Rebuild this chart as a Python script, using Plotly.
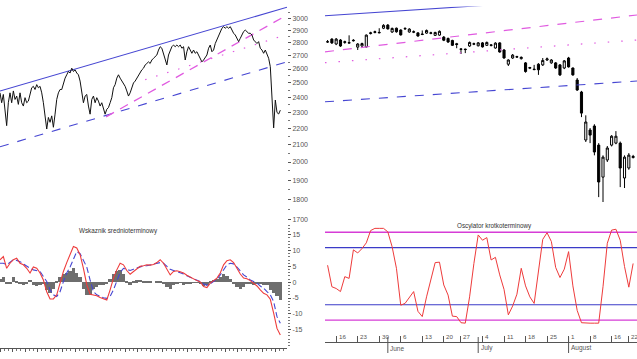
import plotly.graph_objects as go
import pandas as pd
import math

W, H = 637, 359

# ---------------- left: long-term index (log scale) ----------------
long_close = [2431, 2364, 2420, 2300, 2216, 2364, 2431, 2364, 2444, 2386, 2409, 2353, 2431, 2364, 2342, 2398,
              2364, 2375, 2431, 2466, 2476, 2454, 2488, 2466, 2476, 2431, 2364, 2268, 2195, 2268, 2237, 2278,
              2206, 2289, 2386, 2431, 2454, 2454, 2500, 2534, 2558, 2582, 2571, 2606, 2582, 2594, 2571, 2558,
              2513, 2444, 2364, 2409, 2420, 2342, 2289, 2386, 2409, 2364, 2398, 2375, 2342, 2364, 2321, 2289,
              2321, 2332, 2364, 2398, 2466, 2488, 2534, 2558, 2534, 2513, 2488, 2476, 2444, 2409, 2431, 2466,
              2500, 2513, 2534, 2558, 2571, 2594, 2606, 2630, 2641, 2653, 2641, 2667, 2680, 2692, 2705, 2743,
              2769, 2757, 2718, 2680, 2630, 2705, 2743, 2769, 2782, 2769, 2782, 2769, 2782, 2757, 2769, 2667,
              2730, 2769, 2743, 2718, 2743, 2718, 2730, 2705, 2680, 2653, 2667, 2692, 2705, 2757, 2782, 2730,
              2743, 2794, 2822, 2849, 2890, 2917, 2930, 2917, 2930, 2917, 2930, 2902, 2876, 2862, 2835, 2809,
              2835, 2862, 2890, 2902, 2890, 2876, 2876, 2862, 2822, 2809, 2794, 2809, 2757, 2743, 2718, 2743,
              2705, 2680, 2617, 2360, 2202, 2382, 2300, 2290, 2315]
long_price_ticks = [1700, 1800, 1900, 2000, 2100, 2200, 2300, 2400, 2500, 2600, 2700, 2800, 2900, 3000]

# trend lines of the long-term chart: (start index, end index), (start value, end value)
lt_channel_top_x, lt_channel_top_y = [0, 172], [2444, 3095]
lt_channel_bot_x, lt_channel_bot_y = [0, 172], [2088, 2653]
lt_support_x, lt_support_y = [63.6, 172], [2272, 3028]
lt_mid_x, lt_mid_y = [87, 172], [2523, 2866]

# ---------------- left: medium-term indicator ----------------
macd_line = [7.1, 8.1, 4.4, 6.0, 7.1, 7.6, 6.0, 5.5, 4.4, 2.9, 4.8, 4.4, 2.9, 0.7, -3.0, -5.3, -5.3, -4.0,
             -0.3, 3.4, 6.2, 9.0, 11.3, 10.8, 8.7, 4.4, -0.8, -3.8, -4.0, -4.3, -4.8, -5.2, -5.6, -2.4, 1.3,
             3.9, 6.0, 5.5, 3.7, 2.5, 3.4, 4.1, 5.0, 5.2, 5.5, 5.4, 5.6, 6.2, 7.1, 6.0, 3.9, 2.3, 3.4, 3.6,
             3.3, 2.9, 2.2, 1.6, 1.0, 0.5, 0.1, -1.4, -1.7, -0.3, 0.5, 1.3, 2.9, 5.5, 6.8, 7.1, 6.2, 4.4,
             2.6, 1.3, 1.1, 0.5, -0.3, -1.2, -2.4, -3.5, -4.0, -5.4, -9.8, -14.6, -16.7]
macd_signal = [6.0, 6.0, 5.5, 6.2, 7.1, 6.9, 6.5, 5.8, 5.0, 4.4, 3.9, 3.7, 3.4, 1.8, 0.2, -2.4, -4.0, -4.5,
               -3.0, 0.2, 2.9, 4.8, 7.1, 9.7, 9.0, 7.1, 4.8, 0.7, -3.0, -4.0, -4.5, -4.9, -5.1, -4.5, -2.4,
               0.7, 3.1, 4.4, 4.1, 3.7, 4.1, 4.4, 4.8, 5.2, 5.2, 5.5, 5.8, 6.0, 6.2, 6.0, 5.2, 4.1, 3.7, 3.4,
               3.1, 2.6, 2.0, 1.6, 1.2, 0.7, 0.2, -0.5, -1.0, -0.5, 0.2, 1.0, 2.3, 3.9, 5.5, 6.0, 5.8, 4.8,
               3.4, 2.3, 1.6, 0.7, 0.2, -0.3, -1.2, -1.9, -3.0, -4.0, -6.1, -10.9, -13.0]
macd_hist = [1.0, 1.5, -0.5, -0.3, 1.8, 0.5, -0.3, -0.8, -0.5, 0.8, -0.8, -1.2, -1.0, -0.5, -2.5, -3.5, -2.0,
             0.3, 1.8, 2.5, 3.0, 3.5, 4.5, 3.0, 1.5, -2.0, -4.0, -4.0, -2.0, -1.5, -1.0, -1.0, -0.5, 1.0, 2.5,
             3.5, 4.0, 2.5, 0.5, -1.0, 0.5, 0.6, 0.7, 0.5, 0.4, 0.3, 0.0, 0.5, 0.3, -0.5, -1.5, -2.0, -1.0,
             -0.3, -0.2, -0.8, -0.5, -0.3, -0.1, -0.2, -0.6, -1.2, -1.0, 0.3, 0.8, 1.0, 1.5, 2.5, 2.0, 1.0,
             -0.5, -1.5, -2.0, -1.5, -0.5, -0.3, -0.8, -0.5, -0.3, -0.8, -1.0, -2.5, -3.5, -4.5, -5.5]
macd_ticks = [-15, -10, -5, 0, 5, 10, 15]

# ---------------- right: daily candles ----------------
holidays = ["2011-06-23", "2011-08-15"]
trade_dates = [d.strftime("%Y-%m-%d") for d in pd.bdate_range("2011-05-12", "2011-08-23")
               if d.strftime("%Y-%m-%d") not in holidays]

c_open = [2860, 2873, 2851, 2869, 2858, 2855, 2868, 2837, 2842, 2838, 2898, 2903, 2901, 2922, 2936, 2905,
          2922, 2914, 2919, 2905, 2904, 2901, 2896, 2900, 2899, 2890, 2891, 2882, 2876, 2867, 2852, 2829,
          2828, 2842, 2850, 2843, 2856, 2845, 2847, 2833, 2856, 2824, 2760, 2788, 2792, 2785, 2766, 2742,
          2738, 2760, 2757, 2779, 2766, 2766, 2757, 2743, 2788, 2743, 2689, 2635, 2419, 2464, 2482, 2396,
          2252, 2329, 2396, 2405, 2405, 2248, 2293, 2340]
c_high = [2869, 2877, 2878, 2873, 2866, 2890, 2873, 2855, 2857, 2894, 2906, 2911, 2922, 2940, 2941, 2925,
          2925, 2917, 2926, 2922, 2912, 2904, 2912, 2916, 2906, 2906, 2912, 2887, 2880, 2870, 2856, 2831,
          2830, 2862, 2857, 2860, 2860, 2862, 2851, 2859, 2859, 2828, 2782, 2806, 2798, 2795, 2770, 2748,
          2757, 2765, 2788, 2790, 2783, 2770, 2761, 2779, 2793, 2745, 2698, 2640, 2530, 2473, 2490, 2405,
          2350, 2392, 2441, 2459, 2412, 2350, 2360, 2352]
c_low = [2856, 2851, 2846, 2838, 2852, 2853, 2862, 2824, 2838, 2835, 2894, 2899, 2899, 2918, 2916, 2901,
         2902, 2889, 2914, 2902, 2900, 2884, 2891, 2897, 2895, 2887, 2888, 2864, 2856, 2842, 2832, 2806,
         2810, 2838, 2846, 2840, 2835, 2842, 2840, 2830, 2812, 2785, 2752, 2784, 2788, 2781, 2722, 2738,
         2733, 2712, 2752, 2775, 2762, 2739, 2707, 2738, 2745, 2708, 2640, 2522, 2410, 2405, 2350, 2162,
         2140, 2320, 2390, 2400, 2207, 2203, 2285, 2336]
c_close = [2861, 2856, 2873, 2842, 2861, 2857, 2866, 2851, 2853, 2891, 2901, 2906, 2903, 2935, 2919, 2921,
           2906, 2892, 2921, 2918, 2906, 2887, 2894, 2912, 2901, 2903, 2908, 2868, 2860, 2845, 2849, 2827,
           2826, 2858, 2852, 2856, 2838, 2858, 2845, 2855, 2815, 2788, 2779, 2801, 2794, 2791, 2727, 2745,
           2736, 2735, 2777, 2784, 2779, 2743, 2712, 2775, 2748, 2712, 2644, 2540, 2500, 2441, 2365, 2230,
           2342, 2383, 2436, 2436, 2293, 2342, 2351, 2345]

# trend lines of the daily chart (start/end trading position, start/end value)
d_top_x, d_top_y = [-0.6, 72], [2978, 3070]
d_support_x, d_support_y = [-0.6, 71.9], [2816, 2981.5]
d_mid_x, d_mid_y = [-0.6, 71.9], [2767, 2869]
d_bottom_x, d_bottom_y = [-0.6, 71.9], [2591, 2684.5]

# ---------------- right: short-term oscillator ----------------
osc = [25, -24, -28, -35, -1, -5, 60, 53, 63, 76, 104, 109, 109, 109, 101, 67, 18, -66, -62, -47, -35, -80,
       -92, -47, -5, 31, 32, -20, -43, -91, -92, -106, -107, -47, 29, 94, 82, 88, 37, 43, 3, -30, -88, -68,
       -41, 18, -22, -47, -62, 14, 84, 99, 79, 20, -3, 16, 56, -22, -78, -106, -107, -107, -107, -107, -24,
       75, 105, 107, 82, 22, -25, 29]
osc_outer_levels = [100, -100]
osc_inner_levels = [65, -65]

week_tick_dates = ["2011-05-16", "2011-05-23", "2011-05-30", "2011-06-06", "2011-06-13", "2011-06-20",
                   "2011-06-27", "2011-07-04", "2011-07-11", "2011-07-18", "2011-07-25", "2011-08-01",
                   "2011-08-08", "2011-08-16", "2011-08-22"]
week_tick_labels = ["16", "23", "30", "6", "13", "20", "27", "4", "11", "18", "25", "1", "8", "16", "22"]
month_dates = ["2011-06-01", "2011-07-01", "2011-08-01"]
month_labels = ["June", "July", "August"]

# ---------------- styling ----------------
BLUE = "#4646d2"
MAGENTA = "#e05ae0"
RED = "#ee3b3b"
GRAY_TXT = "#555555"
FONT = "Liberation Sans"


def py(px):  # pixel row -> paper y
    return 1 - px / H


def pxx(px):
    return px / W


fig = go.Figure()

n_long = len(long_close)
x_long = list(range(n_long))

# left top
fig.add_trace(go.Scatter(x=lt_channel_top_x, y=lt_channel_top_y, mode="lines",
                         line=dict(color=BLUE, width=1.1), xaxis="x", yaxis="y"))
fig.add_trace(go.Scatter(x=lt_channel_bot_x, y=lt_channel_bot_y, mode="lines",
                         line=dict(color=BLUE, width=1.1, dash="9px,9px"), xaxis="x", yaxis="y"))
fig.add_trace(go.Scatter(x=lt_support_x, y=lt_support_y, mode="lines",
                         line=dict(color=MAGENTA, width=1.3, dash="9px,7px"), xaxis="x", yaxis="y"))
fig.add_trace(go.Scatter(x=lt_mid_x, y=lt_mid_y, mode="lines",
                         line=dict(color=MAGENTA, width=1.2, dash="1.5px,10px"), xaxis="x", yaxis="y"))
fig.add_trace(go.Scatter(x=x_long, y=long_close, mode="lines",
                         line=dict(color="#111111", width=1), xaxis="x", yaxis="y"))

# left bottom
x_macd = list(range(0, 2 * len(macd_line), 2))
fig.add_trace(go.Bar(x=x_macd, y=macd_hist, width=2, marker=dict(color="#6e6e6e", line=dict(width=0)),
                     xaxis="x", yaxis="y2"))
fig.add_trace(go.Scatter(x=x_macd, y=macd_signal, mode="lines",
                         line=dict(color=BLUE, width=1.1, dash="6px,3px"), xaxis="x", yaxis="y2"))
fig.add_trace(go.Scatter(x=x_macd, y=macd_line, mode="lines",
                         line=dict(color=RED, width=1.1), xaxis="x", yaxis="y2"))

# right top
x_day = list(range(len(trade_dates)))
fig.add_trace(go.Scatter(x=d_top_x, y=d_top_y, mode="lines", line=dict(color=BLUE, width=1.1),
                         xaxis="x3", yaxis="y3"))
fig.add_trace(go.Scatter(x=d_support_x, y=d_support_y, mode="lines",
                         line=dict(color=MAGENTA, width=1.2, dash="9px,9px"), xaxis="x3", yaxis="y3"))
fig.add_trace(go.Scatter(x=d_mid_x, y=d_mid_y, mode="lines",
                         line=dict(color=MAGENTA, width=1.2, dash="1.5px,12px"), xaxis="x3", yaxis="y3"))
fig.add_trace(go.Scatter(x=d_bottom_x, y=d_bottom_y, mode="lines",
                         line=dict(color=BLUE, width=1.1, dash="9px,9px"), xaxis="x3", yaxis="y3"))
fig.add_trace(go.Candlestick(x=x_day, open=c_open, high=c_high, low=c_low, close=c_close,
                             increasing=dict(line=dict(color="#000000", width=1), fillcolor="#ffffff"),
                             decreasing=dict(line=dict(color="#000000", width=1), fillcolor="#000000"),
                             whiskerwidth=0, xaxis="x3", yaxis="y3"))

# right bottom
for lv in osc_outer_levels:
    fig.add_trace(go.Scatter(x=[-1, len(trade_dates)], y=[lv, lv], mode="lines",
                             line=dict(color="#d63cd6", width=1.4), xaxis="x3", yaxis="y4"))
for lv in osc_inner_levels:
    fig.add_trace(go.Scatter(x=[-1, len(trade_dates)], y=[lv, lv], mode="lines",
                             line=dict(color="#3b3bc8", width=1.2), xaxis="x3", yaxis="y4"))
fig.add_trace(go.Scatter(x=x_day, y=osc, mode="lines", line=dict(color=RED, width=1),
                         xaxis="x3", yaxis="y4"))

week_pos = [trade_dates.index(d) for d in week_tick_dates]
month_pos = [trade_dates.index(d) for d in month_dates]

annotations = []
for p, lab in zip(week_pos, week_tick_labels):
    annotations.append(dict(x=p, y=py(336), xref="x3", yref="paper", text=lab, showarrow=False,
                            xanchor="left", yanchor="middle", xshift=0.5,
                            font=dict(family=FONT, size=6.2, color=GRAY_TXT)))
for p, lab in zip(month_pos, month_labels):
    annotations.append(dict(x=p, y=py(348), xref="x3", yref="paper", text=lab, showarrow=False,
                            xanchor="left", yanchor="middle", xshift=0.5,
                            font=dict(family=FONT, size=6.5, color=GRAY_TXT)))
annotations.append(dict(x=pxx(118), y=py(231), xref="paper", yref="paper", xanchor="center",
                        yanchor="middle", text="Wskaznik srednioterminowy", showarrow=False,
                        font=dict(family=FONT, size=6.3, color="#333333")))
annotations.append(dict(x=pxx(494), y=py(226), xref="paper", yref="paper", xanchor="center",
                        yanchor="middle", text="Oscylator krotkoterminowy", showarrow=False,
                        font=dict(family=FONT, size=6.3, color="#333333")))

shapes = []
for p in month_pos:
    shapes.append(dict(type="line", xref="x3", yref="paper", x0=p, x1=p, y0=py(353), y1=py(337),
                       line=dict(color="#555555", width=1)))

fig.update_layout(
    width=W, height=H, margin=dict(l=0, r=0, t=0, b=0),
    paper_bgcolor="white", plot_bgcolor="white", showlegend=False, bargap=0,
    annotations=annotations, shapes=shapes,
    xaxis=dict(domain=[0, 287 / W], range=[0, 172], anchor="y2", showgrid=False, zeroline=False,
               showline=True, linecolor="#555555", linewidth=1, ticks="outside", ticklen=3,
               tickcolor="#555555", tick0=0, dtick=7.5, showticklabels=False,
               minor=dict(ticks="outside", ticklen=2, dtick=2.5, tickcolor="#777777")),
    yaxis=dict(domain=[py(224), 1], type="log", range=[math.log10(1679), math.log10(3159)],
               anchor="x", side="right", showgrid=False, zeroline=False, showline=False,
               tickvals=long_price_ticks, ticktext=[str(v) for v in long_price_ticks],
               ticks="outside", ticklen=3, tickcolor="#555555",
               tickfont=dict(family=FONT, size=7, color=GRAY_TXT),
               minor=dict(tickvals=[v + 50 for v in long_price_ticks] + [1650],
                          ticks="outside", ticklen=2, tickcolor="#777777")),
    yaxis2=dict(domain=[py(348), py(224)], range=[-20.8, 18.4], anchor="x", side="right",
                showgrid=False, zeroline=False, showline=False,
                tickvals=macd_ticks, ticktext=[str(v) for v in macd_ticks],
                ticks="outside", ticklen=3, tickcolor="#555555",
                tickfont=dict(family=FONT, size=7, color=GRAY_TXT),
                minor=dict(dtick=1, ticks="outside", ticklen=2, tickcolor="#777777")),
    xaxis3=dict(domain=[325 / W, 1], range=[-0.6, 71.9], anchor="y4", showgrid=False, zeroline=False,
                showline=True, linecolor="#555555", linewidth=1, tickvals=week_pos, ticks="inside",
                ticklen=6, tickcolor="#555555", showticklabels=False,
                rangeslider=dict(visible=False)),
    yaxis3=dict(domain=[py(212), py(6.5)], range=[2095, 3019.75], anchor="x3", visible=False),
    yaxis4=dict(domain=[py(342), py(222)], range=[-149.9, 123.5], anchor="x3", visible=False),
)

fig.write_html("out.html", config={"displayModeBar": False},
               post_script="document.body.style.margin='0';document.body.style.overflow='hidden';")
